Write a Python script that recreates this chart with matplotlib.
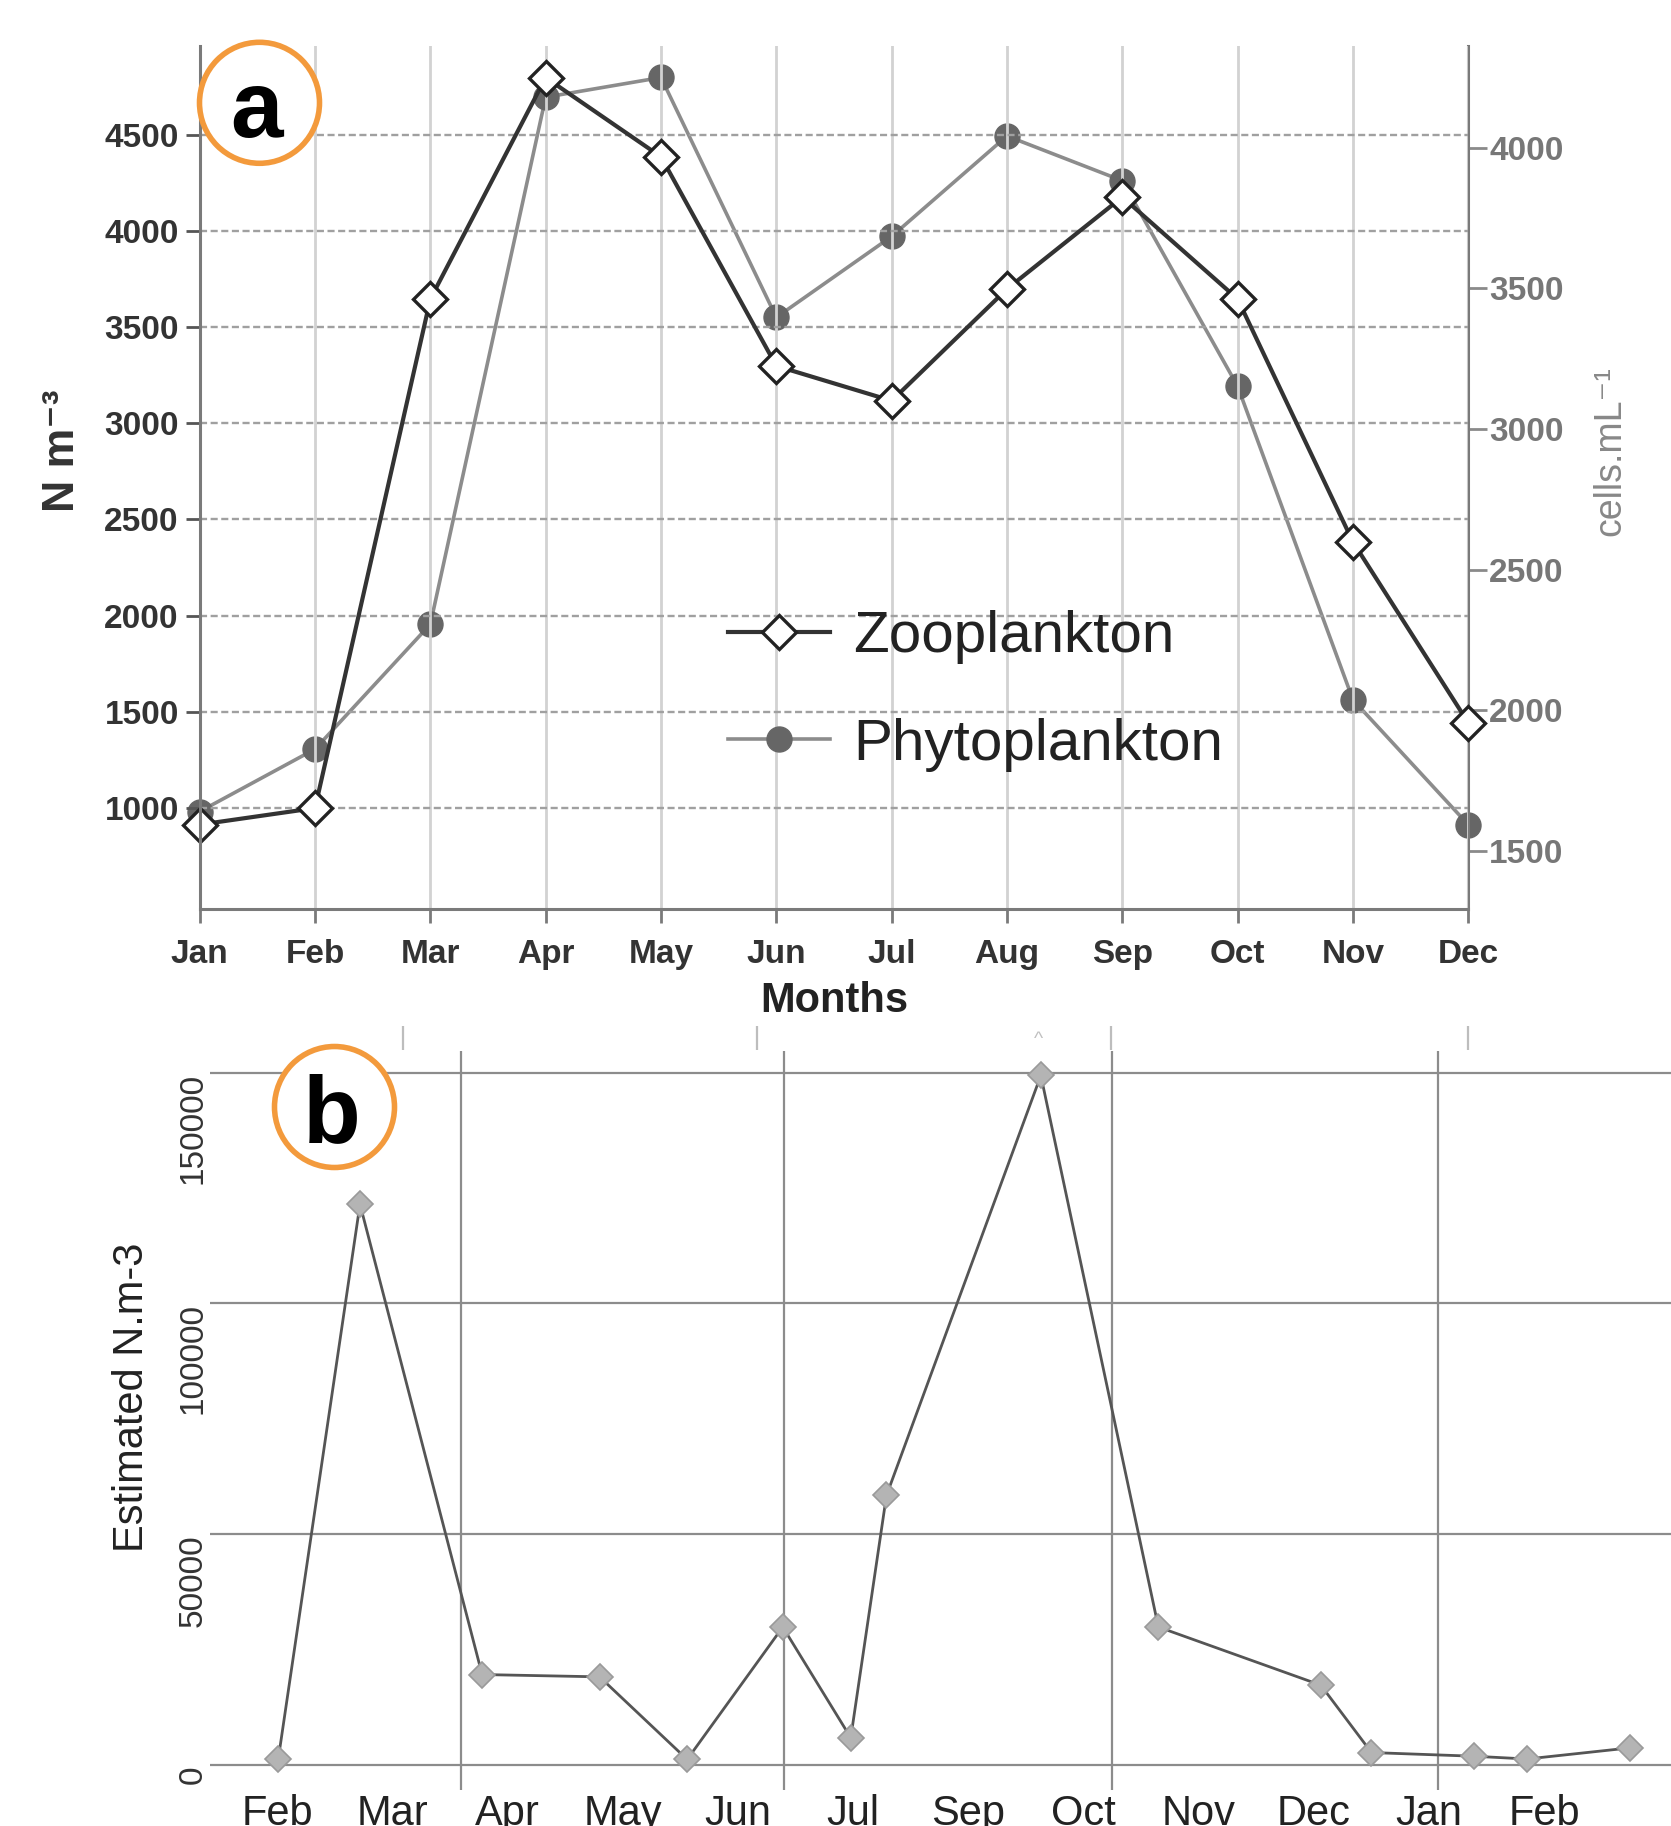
import matplotlib
matplotlib.use('Agg')
import matplotlib.pyplot as plt
from matplotlib.patches import Ellipse
from matplotlib.lines import Line2D

plt.rcParams['font.family'] = ['Liberation Sans', 'DejaVu Sans']

# ---- panel a: monthly means ----
months = ['Jan', 'Feb', 'Mar', 'Apr', 'May', 'Jun', 'Jul', 'Aug', 'Sep', 'Oct', 'Nov', 'Dec']
zoo = [914, 1000, 3646, 4797, 4385, 3298, 3117, 3698, 4176, 3646, 2383, 1443]
phyto = [1640, 1862, 2306, 4180, 4250, 3397, 3685, 4042, 3883, 3152, 2037, 1593]
left_ticks = [1000, 1500, 2000, 2500, 3000, 3500, 4000, 4500]
right_ticks = [1500, 2000, 2500, 3000, 3500, 4000]

# ---- panel b: estimated abundance per sampling ----
b_labels = ['Feb', 'Mar', 'Apr', 'May', 'Jun', 'Jul', 'Sep', 'Oct', 'Nov', 'Dec', 'Jan', 'Feb']
b_x = [0.01, 0.72, 1.78, 2.80, 3.56, 4.39, 4.98, 5.29, 6.63, 7.65, 9.06, 9.50, 10.39, 10.85, 11.74]
b_y = [1200, 121500, 19600, 19100, 1200, 29900, 5900, 58400, 149400, 29900, 17300, 2700, 1900, 1300, 3700]
b_yticks = [0, 50000, 100000, 150000]
b_vlines = [1.60, 4.40, 7.245, 10.08]
b_top_marks = [1.09, 4.17, 7.24, 10.34]

W, H = 1671, 1826
fig = plt.figure(figsize=(W / 100, H / 100), dpi=100)


def px_axes(l, t, r, b):
    return fig.add_axes([l / W, 1 - b / H, (r - l) / W, (b - t) / H])


# ================= panel a =================
ax = px_axes(199.7, 46, 1468.3, 908.7)
ax2 = ax.twinx()
ax.set_zorder(ax2.get_zorder() + 1)
ax.patch.set_visible(False)

ax.set_xlim(0, 11)
ax.set_ylim(477, 4961)
ax2.set_ylim(1294.5, 4362)

x = list(range(len(months)))
ax2.plot(x, phyto, color='#8c8c8c', lw=2.6, marker='o', ms=18,
         mfc='#666666', mec='#666666', label='Phytoplankton', clip_on=False)
ax.plot(x, zoo, color='#333333', lw=3, marker='D', ms=17, mfc='white',
        mec='#222222', mew=2.4, label='Zooplankton', clip_on=False)

ax.set_xticks(x)
ax.set_xticklabels(months)
ax.set_yticks(left_ticks)
ax.set_yticklabels([str(v) for v in left_ticks])
ax2.set_yticks(right_ticks)
ax2.set_yticklabels([str(v) for v in right_ticks])

ax.set_axisbelow(True)
ax.grid(axis='x', color='#d2d2d2', lw=2, ls='-')
ax.grid(axis='y', color='#a0a0a0', lw=1.7, ls=(0, (3, 1.5)))

for s in ['top', 'right']:
    ax.spines[s].set_visible(False)
for s in ['top', 'left', 'bottom']:
    ax2.spines[s].set_visible(False)
for sp in [ax.spines['left'], ax.spines['bottom'], ax2.spines['right']]:
    sp.set_color('#7a7a7a')
    sp.set_linewidth(2.2)

ax.tick_params(axis='y', length=10, width=2, color='#555555', pad=5,
               labelsize=24, labelcolor='#333333')
ax.tick_params(axis='x', length=10, width=2, color='#7a7a7a', pad=12,
               labelsize=24, labelcolor='#333333')
ax2.tick_params(axis='y', length=14, width=2, color='#8a8a8a', pad=1,
                labelsize=24, labelcolor='#777777')
for lab in ax.get_xticklabels() + ax.get_yticklabels() + ax2.get_yticklabels():
    lab.set_fontweight('bold')

fig.text(834 / W, 1 - 1012 / H, 'Months', ha='center', va='baseline',
         fontsize=30, fontweight='bold', color='#222222')
fig.text(62 / W, 1 - 451 / H, 'N m\u207b\u00b3', rotation=90, ha='center', va='center',
         fontsize=32, fontweight='bold', color='#333333')
fig.text(1610 / W, 1 - 451 / H, 'cells.mL\u207b\u00b9', rotation=90, ha='center', va='center',
         fontsize=27, color='#888888')

handles = [
    Line2D([], [], color='#333333', lw=3, marker='D', ms=17, mfc='white', mec='#222222', mew=2.4),
    Line2D([], [], color='#8c8c8c', lw=2.6, marker='o', ms=18, mfc='#666666', mec='#666666'),
]
ax.legend(handles, ['Zooplankton', 'Phytoplankton'], loc='center left',
          bbox_to_anchor=(728 / W, 1 - 691 / H), bbox_transform=fig.transFigure,
          frameon=False, fontsize=42, handlelength=1.75, handletextpad=0.4,
          labelspacing=0.92, borderpad=0, borderaxespad=0, labelcolor='#222222')

# ================= panel b =================
axb = px_axes(210, 1051, 1671, 1790)
axb.set_xlim(-0.582, 12.10)
axb.set_ylim(-5416, 154700)
for s in axb.spines.values():
    s.set_visible(False)

axb.plot(b_x, b_y, color='#555555', lw=2, marker='D', ms=13.5,
         mfc='#b4b4b4', mec='#9a9a9a', mew=1.2, zorder=3)

axb.set_xticks(range(len(b_labels)))
axb.set_xticklabels(b_labels)
axb.set_xticks(b_vlines, minor=True)
axb.set_yticks(b_yticks)
axb.set_yticklabels([str(v) for v in b_yticks])
for lab in axb.get_yticklabels():
    lab.set_rotation(90)
    lab.set_va('top')
axb.tick_params(axis='x', which='major', length=0, pad=3, labelsize=30, labelcolor='#222222')
axb.tick_params(axis='y', length=0, pad=1, labelsize=24, labelcolor='#333333')
axb.tick_params(which='minor', length=0)
axb.grid(axis='y', which='major', color='#8c8c8c', lw=1.6)
axb.grid(axis='x', which='minor', color='#8c8c8c', lw=1.6)
axb.grid(axis='x', which='major', visible=False)

axb.vlines(b_top_marks, 1.002, 1.034, transform=axb.get_xaxis_transform(),
           clip_on=False, color='#bdbdbd', lw=1.6)
axb.text(6.61, 1.004, '^', transform=axb.get_xaxis_transform(), ha='center',
         va='bottom', fontsize=14, color='#c0c0c0')

fig.text(132 / W, 1 - 1397 / H, 'Estimated N.m-3', rotation=90, ha='center', va='center',
         fontsize=30, color='#222222')

# ---- panel badges ----
for cx, cy, base, letter in [(259.5, 102.8, 137, 'a'), (334.5, 1107, 1142, 'b')]:
    fig.add_artist(Ellipse((cx / W, 1 - cy / H), 120 / W, 121 / H, transform=fig.transFigure,
                           facecolor='white', edgecolor='#f39a3c', lw=4, zorder=10))
    fig.text((cx - 3) / W, 1 - base / H, letter, ha='center', va='baseline',
             fontsize=68, fontweight='bold', color='black', zorder=11)

fig.savefig('out.png', dpi=100)
